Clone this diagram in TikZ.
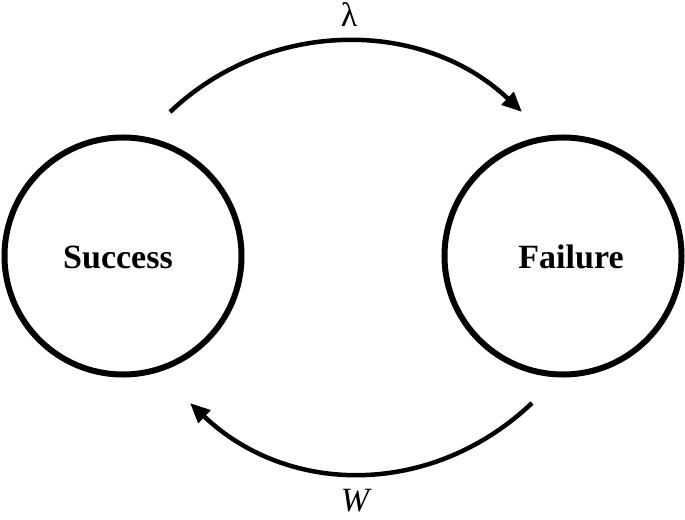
\documentclass[tikz,border=0pt]{standalone}
\usepackage{fontspec}
\setmainfont{Liberation Serif}
\usetikzlibrary{arrows.meta}
\begin{document}
\begin{tikzpicture}[x=1bp,y=-1bp,
  state/.style={circle,draw=black,line width=6bp,minimum size=237bp,inner sep=0pt},
  statetext/.style={font=\fontsize{34bp}{40bp}\selectfont\bfseries},
  trans/.style={line width=4.5bp,-{Triangle[length=20bp,width=17bp]}},
  translabel/.style={font=\fontsize{34bp}{40bp}\selectfont}]
\useasboundingbox (0,0) rectangle (685,520);
\node[state] (S) at (123,256) {};
\node[state] (F) at (563,256) {};
\node[statetext] (St) at (118,257) {Success};
\node[statetext] (Ft) at (571,257) {Failure};
\coordinate (a1) at (170,112);
\coordinate (a2) at (522,112);
\coordinate (b1) at (532,403);
\coordinate (b2) at (190,403);
\draw[trans] (a1) .. controls (269,18) and (423,18) .. (a2);
\draw[trans] (b1) .. controls (433,497) and (289,497) .. (b2);
\node[translabel] (lam) at (349,15) {λ};
\node[translabel,font=\fontsize{34bp}{40bp}\selectfont\itshape] (w) at (355,501) {W};
\end{tikzpicture}
\end{document}
